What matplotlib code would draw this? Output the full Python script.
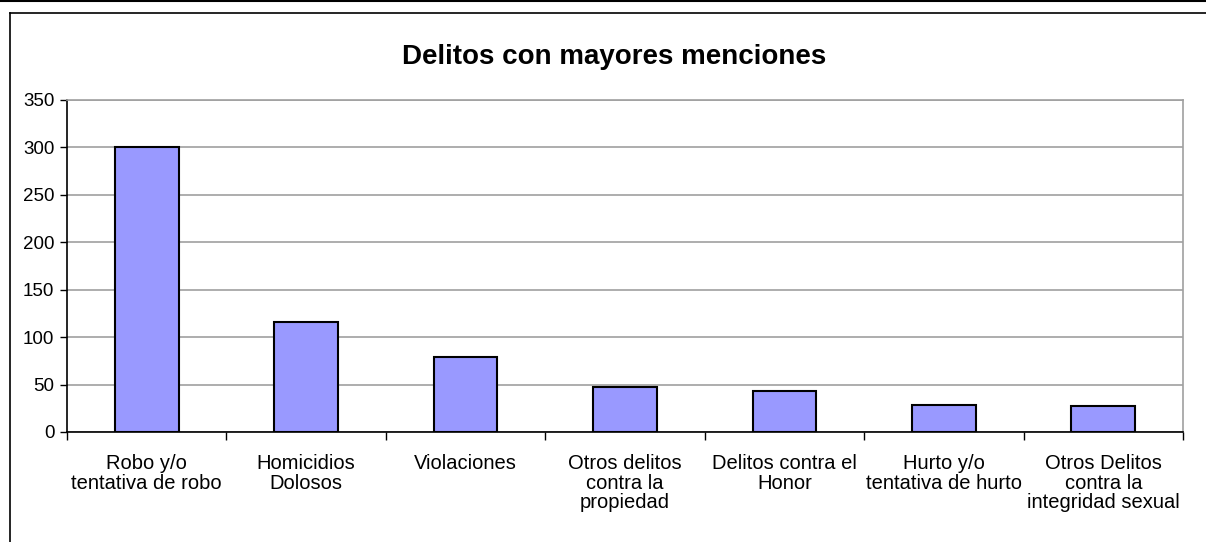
import matplotlib.pyplot as plt
from matplotlib.lines import Line2D
import numpy as np

plt.rcParams['font.family'] = ['Liberation Sans', 'DejaVu Sans']

# Data
categories = ["Robo y/o\ntentativa de robo", "Homicidios\nDolosos", "Violaciones",
              "Otros delitos\ncontra la\npropiedad", "Delitos contra el\nHonor",
              "Hurto y/o\ntentativa de hurto", "Otros Delitos\ncontra la\nintegridad sexual"]
values = [300, 116, 79, 47, 43, 28, 27]
y_ticks = [0, 50, 100, 150, 200, 250, 300, 350]

W, H = 1206, 542
fig = plt.figure(figsize=(W / 100, H / 100), dpi=100)

# Outer frame lines (only top and left visible)
fig.add_artist(Line2D([0, 1], [1 - 0.8 / H, 1 - 0.8 / H], transform=fig.transFigure,
                      color='black', lw=1.5))
fig.add_artist(Line2D([10 / W, 1], [1 - 13 / H, 1 - 13 / H], transform=fig.transFigure,
                      color='black', lw=1.2))
fig.add_artist(Line2D([10 / W, 10 / W], [0, 1 - 13 / H], transform=fig.transFigure,
                      color='black', lw=1.2))

ax = fig.add_axes([67 / W, (H - 432) / H, (1183 - 67) / W, (432 - 100) / H])
x = np.arange(len(categories))
ax.bar(x, values, width=0.4, color='#9999FF', edgecolor='black', linewidth=1.5, zorder=3)

ax.set_xlim(-0.5, len(categories) - 0.5)
ax.set_ylim(0, 350)
ax.set_yticks(y_ticks)
ax.set_yticklabels([str(t) for t in y_ticks], fontsize=13.5)
ax.yaxis.grid(True, color='#a0a0a0', lw=1.2, zorder=0)

# Category labels centred, ticks between categories
ax.set_xticks(x)
ax.set_xticklabels(categories, fontsize=14.5, linespacing=1.02)
ax.tick_params(axis='x', length=0, pad=16)
ax.set_xticks(np.arange(len(categories) + 1) - 0.5, minor=True)
ax.tick_params(axis='x', which='minor', length=6, width=1, color='black', direction='out')
ax.tick_params(axis='y', length=5, width=1, color='black', direction='out', pad=4)

for s in ['left', 'bottom']:
    ax.spines[s].set_color('black')
    ax.spines[s].set_linewidth(1.2)
for s in ['top', 'right']:
    ax.spines[s].set_color('#a0a0a0')
    ax.spines[s].set_linewidth(1.2)

fig.text(614 / W, 1 - 57 / H, "Delitos con mayores menciones", fontsize=20,
         fontweight='bold', ha='center', va='center')

fig.savefig('out.png', dpi=100)
